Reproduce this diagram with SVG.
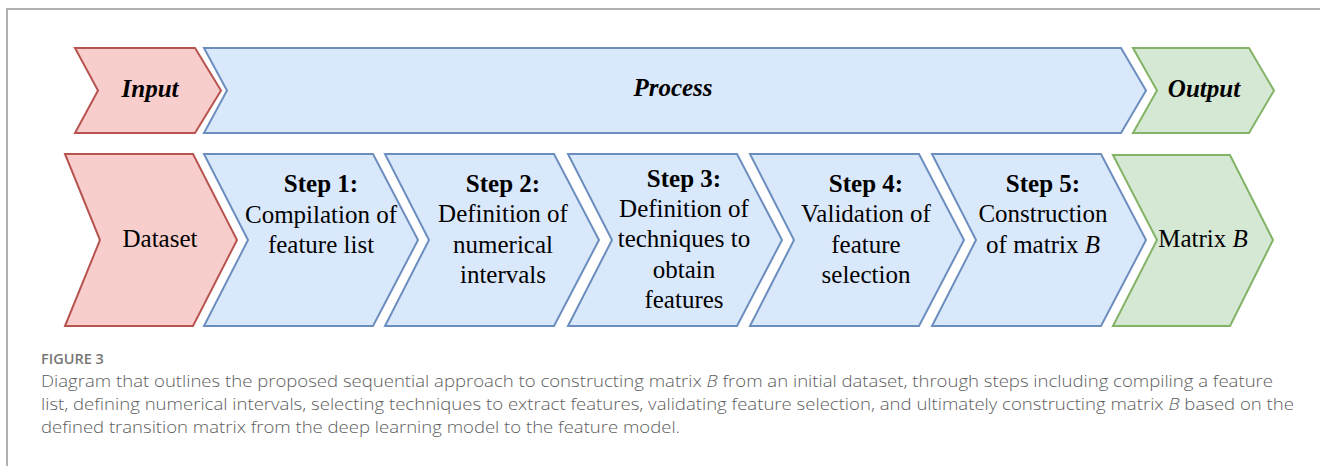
<svg xmlns="http://www.w3.org/2000/svg" width="1320" height="466" viewBox="0 0 1320 466">
<style>
.red{fill:#f8cecc;stroke:#b85450;stroke-width:2;stroke-linejoin:miter}
.blue{fill:#dae8fc;stroke:#6c8ebf;stroke-width:2;stroke-linejoin:miter}
.green{fill:#d5e8d4;stroke:#82b366;stroke-width:2;stroke-linejoin:miter}
.hd{font-family:"Liberation Serif","Times New Roman",serif;font-size:25px;font-weight:bold;font-style:italic;fill:#000;text-anchor:middle}
.tx{font-family:"Liberation Serif","Times New Roman",serif;font-size:25px;fill:#000;text-anchor:middle}
.b{font-weight:bold}
.i{font-style:italic}
.cap{font-family:"Open Sans","Liberation Sans",sans-serif;font-size:16px;font-weight:300;fill:#5e5e5e}
.fig{font-family:"Open Sans","Liberation Sans",sans-serif;font-size:14.5px;font-weight:600;fill:#777}
</style>
<rect width="1320" height="466" fill="#fff"/>
<path d="M7 466 V9 H1320" fill="none" stroke="#b0b0b0" stroke-width="2"/>

<g id="input">
<polygon class="red" points="75,48 195,48 221,90.5 195,133 75,133 98,90.5"/>
<text class="hd" x="150" y="97">Input</text>
</g>
<g id="process">
<polygon class="blue" points="204,48 1121,48 1146,90.5 1121,133 204,133 227,90.5"/>
<text class="hd" x="673" y="96">Process</text>
</g>
<g id="output">
<polygon class="green" points="1133,48 1249,48 1274,90.5 1249,133 1133,133 1157,90.5"/>
<text class="hd" x="1204" y="97">Output</text>
</g>

<g id="dataset">
<polygon class="red" points="65,154 193,154 237,240 193,326 65,326 100,240"/>
<text class="tx" x="160" y="247">Dataset</text>
</g>
<g id="step1">
<polygon class="blue" points="204,154 373,154 418,240 373,326 204,326 248,240"/>
<text class="tx" x="321"><tspan class="b" x="321" y="192">Step 1:</tspan><tspan x="321" y="223">Compilation of</tspan><tspan x="321" y="253">feature list</tspan></text>
</g>
<g id="step2">
<polygon class="blue" points="385,154 554,154 599,240 554,326 385,326 429,240"/>
<text class="tx" x="503"><tspan class="b" x="503" y="192">Step 2:</tspan><tspan x="503" y="222">Definition of</tspan><tspan x="503" y="253">numerical</tspan><tspan x="503" y="283">intervals</tspan></text>
</g>
<g id="step3">
<polygon class="blue" points="568,154 737,154 782,240 737,326 568,326 612,240"/>
<text class="tx" x="684"><tspan class="b" x="684" y="187">Step 3:</tspan><tspan x="684" y="217">Definition of</tspan><tspan x="684" y="247">techniques to</tspan><tspan x="684" y="278">obtain</tspan><tspan x="684" y="308">features</tspan></text>
</g>
<g id="step4">
<polygon class="blue" points="750,154 919,154 964,240 919,326 750,326 794,240"/>
<text class="tx" x="866"><tspan class="b" x="866" y="192">Step 4:</tspan><tspan x="866" y="222">Validation of</tspan><tspan x="866" y="253">feature</tspan><tspan x="866" y="283">selection</tspan></text>
</g>
<g id="step5">
<polygon class="blue" points="932,154 1101,154 1146,240 1101,326 932,326 976,240"/>
<text class="tx" x="1043"><tspan class="b" x="1043" y="192">Step 5:</tspan><tspan x="1043" y="222">Construction</tspan><tspan x="1043" y="253">of matrix <tspan class="i">B</tspan></tspan></text>
</g>
<g id="matrixB">
<polygon class="green" points="1113,155 1230,155 1273,240 1230,326 1113,326 1157,240"/>
<text class="tx" x="1203" y="247">Matrix <tspan class="i">B</tspan></text>
</g>

<g id="caption">
<text class="fig" x="41" y="364">FIGURE 3</text>
<text class="cap" x="41" y="387" textLength="1232" lengthAdjust="spacingAndGlyphs">Diagram that outlines the proposed sequential approach to constructing matrix <tspan class="i">B</tspan> from an initial dataset, through steps including compiling a feature</text>
<text class="cap" x="41" y="410" textLength="1253" lengthAdjust="spacingAndGlyphs">list, defining numerical intervals, selecting techniques to extract features, validating feature selection, and ultimately constructing matrix <tspan class="i">B</tspan> based on the</text>
<text class="cap" x="41" y="433" textLength="639" lengthAdjust="spacingAndGlyphs">defined transition matrix from the deep learning model to the feature model.</text>
</g>
</svg>
